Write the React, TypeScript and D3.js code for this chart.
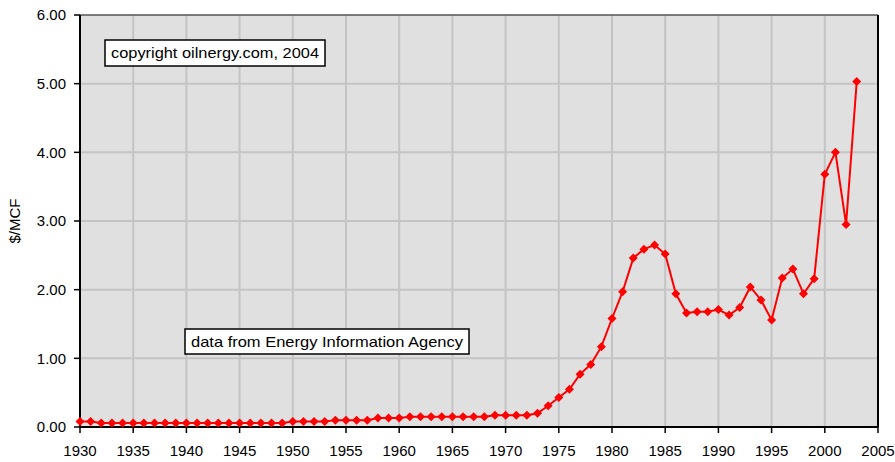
import React from "react";
import * as d3 from "d3";

// US natural gas wellhead price, $/MCF
const years = [
  1930, 1931, 1932, 1933, 1934, 1935, 1936, 1937, 1938, 1939,
  1940, 1941, 1942, 1943, 1944, 1945, 1946, 1947, 1948, 1949,
  1950, 1951, 1952, 1953, 1954, 1955, 1956, 1957, 1958, 1959,
  1960, 1961, 1962, 1963, 1964, 1965, 1966, 1967, 1968, 1969,
  1970, 1971, 1972, 1973, 1974, 1975, 1976, 1977, 1978, 1979,
  1980, 1981, 1982, 1983, 1984, 1985, 1986, 1987, 1988, 1989,
  1990, 1991, 1992, 1993, 1994, 1995, 1996, 1997, 1998, 1999,
  2000, 2001, 2002, 2003,
];
const prices = [
  0.08, 0.08, 0.06, 0.06, 0.06, 0.06, 0.06, 0.06, 0.06, 0.06,
  0.06, 0.06, 0.06, 0.06, 0.06, 0.06, 0.06, 0.06, 0.06, 0.06,
  0.08, 0.08, 0.08, 0.08, 0.1, 0.1, 0.1, 0.1, 0.13, 0.13,
  0.13, 0.15, 0.15, 0.15, 0.15, 0.15, 0.15, 0.15, 0.15, 0.17,
  0.17, 0.17, 0.17, 0.2, 0.31, 0.43, 0.55, 0.77, 0.91, 1.17,
  1.58, 1.97, 2.46, 2.59, 2.65, 2.52, 1.94, 1.66, 1.68, 1.68,
  1.71, 1.63, 1.74, 2.04, 1.85, 1.56, 2.17, 2.3, 1.94, 2.16,
  3.68, 4.0, 2.95, 5.03,
];
const xTicks = [1930, 1935, 1940, 1945, 1950, 1955, 1960, 1965, 1970, 1975, 1980, 1985, 1990, 1995, 2000, 2005];
const yTicks = [0, 1, 2, 3, 4, 5, 6];
const yTitle = "$/MCF";
const notes = ["copyright oilnergy.com, 2004", "data from Energy Information Agency"];

const W = 895;
const H = 462;
const m = { left: 80, right: 17, top: 15, bottom: 35 };
const font = "'Liberation Sans', Arial, sans-serif";

export default function App() {
  const x = d3.scaleLinear().domain([1930, 2005]).range([m.left, W - m.right]);
  const y = d3.scaleLinear().domain([0, 6]).range([H - m.bottom, m.top]);
  const data = years.map((yr, i) => ({ yr, v: prices[i] }));

  const line = d3
    .line<{ yr: number; v: number }>()
    .x((d) => x(d.yr))
    .y((d) => y(d.v));

  const pw = x(2005) - x(1930);
  const ph = y(0) - y(6);

  return (
    <svg
      width={W}
      height={H}
      style={{ position: "absolute", left: 0, top: 0, background: "#fff" }}
      fontFamily={font}
    >
      <rect x={x(1930)} y={y(6)} width={pw} height={ph} fill="#e0e0e0" />

      {/* grid */}
      {xTicks.slice(1, -1).map((t) => (
        <line key={"gx" + t} x1={x(t)} x2={x(t)} y1={y(0)} y2={y(6)} stroke="#c4c4c4" strokeWidth={2} />
      ))}
      {yTicks.slice(1, -1).map((t) => (
        <line key={"gy" + t} x1={x(1930)} x2={x(2005)} y1={y(t)} y2={y(t)} stroke="#c4c4c4" strokeWidth={2} />
      ))}

      {/* frame */}
      <line x1={x(1930)} x2={x(2005)} y1={y(6)} y2={y(6)} stroke="#555" strokeWidth={1.5} />
      <line x1={x(2005)} x2={x(2005)} y1={y(6)} y2={y(0)} stroke="#000" strokeWidth={2} />
      <line x1={x(1930)} x2={x(1930)} y1={y(6)} y2={y(0)} stroke="#000" strokeWidth={2} />
      <line x1={x(1930)} x2={x(2005)} y1={y(0)} y2={y(0)} stroke="#000" strokeWidth={2} />

      {/* y axis */}
      {yTicks.map((t) => (
        <g key={"y" + t}>
          <line x1={x(1930) - 6} x2={x(1930)} y1={y(t)} y2={y(t)} stroke="#000" strokeWidth={1.5} />
          <text x={x(1930) - 14} y={y(t)} dy="0.35em" textAnchor="end" fontSize={15}>
            {d3.format(".2f")(t)}
          </text>
        </g>
      ))}
      <text
        transform={`translate(20,${(y(0) + y(6)) / 2}) rotate(-90)`}
        textAnchor="middle"
        fontSize={15}
      >
        {yTitle}
      </text>

      {/* x axis */}
      {xTicks.map((t) => (
        <g key={"x" + t}>
          <line x1={x(t)} x2={x(t)} y1={y(0)} y2={y(0) + 6} stroke="#000" strokeWidth={1.5} />
          <text x={x(t)} y={y(0) + 24} dy="0.35em" textAnchor="middle" fontSize={15}>
            {t}
          </text>
        </g>
      ))}

      {/* series */}
      <path d={line(data) || ""} fill="none" stroke="#ff0000" strokeWidth={2} />
      {data.map((d) => (
        <path
          key={d.yr}
          transform={`translate(${x(d.yr)},${y(d.v)})`}
          d="M0,-4.5L4.5,0L0,4.5L-4.5,0Z"
          fill="#ff0000"
        />
      ))}

      {/* notes */}
      <g transform={`translate(105,40)`}>
        <rect x={0} y={0} width={220} height={26} fill="#fff" stroke="#000" strokeWidth={1.5} />
        <text x={110} y={13} dy="0.35em" textAnchor="middle" fontSize={15} textLength={208} lengthAdjust="spacingAndGlyphs">
          {notes[0]}
        </text>
      </g>
      <g transform={`translate(185,329)`}>
        <rect x={0} y={0} width={284} height={25} fill="#fff" stroke="#000" strokeWidth={1.5} />
        <text x={142} y={12.5} dy="0.35em" textAnchor="middle" fontSize={15} textLength={272} lengthAdjust="spacingAndGlyphs">
          {notes[1]}
        </text>
      </g>
    </svg>
  );
}
